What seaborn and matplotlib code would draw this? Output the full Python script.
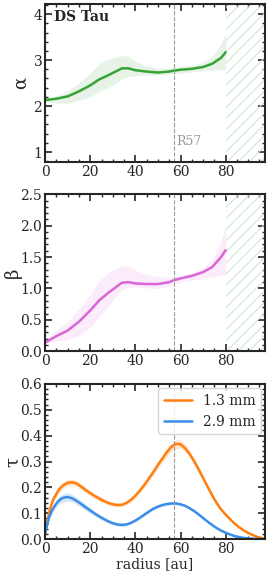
import numpy as np
import pandas as pd
import matplotlib
matplotlib.use('Agg')
import matplotlib.pyplot as plt
import seaborn as sns
from matplotlib.ticker import MultipleLocator

# radius grid for the spectral indices
r_ab = [0, 5, 10, 15, 20, 24, 28, 34, 37, 40, 45, 50, 55, 57, 60, 65, 70, 74, 78, 80]

alpha = [2.13, 2.16, 2.21, 2.32, 2.45, 2.58, 2.67, 2.82, 2.82, 2.78, 2.75, 2.73, 2.75, 2.77, 2.79, 2.81, 2.85, 2.92, 3.05, 3.17]
alpha_lo = [2.10, 2.07, 2.06, 2.13, 2.20, 2.32, 2.40, 2.58, 2.64, 2.66, 2.68, 2.68, 2.69, 2.70, 2.72, 2.74, 2.77, 2.78, 2.79, 2.80]
alpha_hi = [2.16, 2.22, 2.33, 2.50, 2.72, 2.92, 3.02, 3.10, 3.08, 2.97, 2.87, 2.82, 2.83, 2.84, 2.86, 2.89, 2.95, 3.08, 3.35, 3.58]

beta = [0.14, 0.24, 0.33, 0.47, 0.65, 0.81, 0.93, 1.09, 1.10, 1.08, 1.07, 1.07, 1.10, 1.13, 1.16, 1.20, 1.26, 1.34, 1.50, 1.61]
beta_lo = [0.13, 0.16, 0.18, 0.25, 0.38, 0.55, 0.72, 0.98, 1.02, 1.02, 1.01, 1.00, 1.04, 1.07, 1.10, 1.13, 1.16, 1.18, 1.21, 1.22]
beta_hi = [0.20, 0.33, 0.47, 0.67, 0.90, 1.12, 1.25, 1.37, 1.35, 1.29, 1.22, 1.19, 1.18, 1.19, 1.21, 1.25, 1.33, 1.46, 1.75, 2.00]

# optical depth profiles
r_tau = [0, 1, 2, 3, 4, 5, 6, 7, 8, 10, 12, 14, 16, 18, 20, 22, 24, 26, 28, 30, 32, 34, 36, 38,
         40, 42, 44, 46, 48, 50, 52, 54, 56, 58, 60, 62, 64, 66, 68, 70, 72, 74, 76, 78, 80,
         82, 84, 86, 88, 90, 92, 94, 96, 97]
tau_13 = [0.02, 0.07, 0.11, 0.14, 0.16, 0.175, 0.19, 0.20, 0.208, 0.218, 0.22, 0.215, 0.203, 0.19,
          0.178, 0.167, 0.157, 0.148, 0.14, 0.135, 0.132, 0.133, 0.14, 0.152, 0.168, 0.188, 0.21,
          0.235, 0.26, 0.287, 0.312, 0.337, 0.357, 0.368, 0.367, 0.352, 0.33, 0.302, 0.27, 0.237,
          0.203, 0.17, 0.14, 0.115, 0.095, 0.077, 0.06, 0.046, 0.034, 0.024, 0.016, 0.009, 0.004, 0.002]
tau_13_err = [0.004, 0.007, 0.009, 0.011, 0.012, 0.013, 0.013, 0.013, 0.013, 0.013, 0.013, 0.012, 0.012, 0.011,
              0.011, 0.010, 0.010, 0.009, 0.009, 0.008, 0.008, 0.008, 0.008, 0.009, 0.009, 0.010, 0.011,
              0.012, 0.013, 0.014, 0.015, 0.016, 0.017, 0.017, 0.016, 0.015, 0.013, 0.012, 0.010, 0.009,
              0.008, 0.007, 0.006, 0.005, 0.004, 0.003, 0.003, 0.002, 0.002, 0.001, 0.001, 0.001, 0.0, 0.0]
tau_29 = [0.02, 0.06, 0.09, 0.11, 0.125, 0.138, 0.148, 0.155, 0.16, 0.163, 0.158, 0.148, 0.136, 0.123,
          0.111, 0.099, 0.088, 0.078, 0.069, 0.062, 0.057, 0.055, 0.057, 0.063, 0.072, 0.083, 0.095,
          0.107, 0.118, 0.126, 0.132, 0.136, 0.138, 0.138, 0.135, 0.129, 0.12, 0.109, 0.096, 0.082,
          0.068, 0.055, 0.043, 0.033, 0.025, 0.018, 0.012, 0.008, 0.005, 0.003, 0.002, 0.001, 0.0, 0.0]
tau_29_err = [0.004, 0.007, 0.010, 0.012, 0.013, 0.014, 0.015, 0.015, 0.016, 0.016, 0.015, 0.014, 0.013, 0.012,
              0.011, 0.010, 0.009, 0.008, 0.007, 0.007, 0.006, 0.006, 0.006, 0.006, 0.006, 0.006, 0.006,
              0.006, 0.006, 0.006, 0.006, 0.006, 0.006, 0.006, 0.006, 0.005, 0.005, 0.005, 0.004, 0.004,
              0.003, 0.003, 0.002, 0.002, 0.002, 0.001, 0.001, 0.001, 0.0, 0.0, 0.0, 0.0, 0.0, 0.0]

labels = ['1.3 mm', '2.9 mm']
r_ring = 57
r_limit = 80

sns.set_theme(style='ticks')
plt.rcParams['font.family'] = ['DejaVu Serif']
plt.rcParams['axes.linewidth'] = 1.5
plt.rcParams['hatch.linewidth'] = 0.8

green = '#36a336'
pink = '#d966d6'
orange = '#ff7f0e'
blue = '#3a8eea'

fig = plt.figure(figsize=(2.7, 5.73), dpi=100)
ax1 = fig.add_axes([0.167, 0.717, 0.815, 0.276])
ax2 = fig.add_axes([0.167, 0.387, 0.815, 0.274])
ax3 = fig.add_axes([0.167, 0.059, 0.815, 0.271])

df_ab = pd.DataFrame({'r': r_ab, 'alpha': alpha, 'beta': beta})

# alpha panel
ax1.fill_between(r_ab, alpha_lo, alpha_hi, color=green, alpha=0.12, lw=0)
sns.lineplot(data=df_ab, x='r', y='alpha', color=green, lw=1.8, ax=ax1)
ax1.set_ylim(0.78, 4.22)
ax1.yaxis.set_major_locator(MultipleLocator(1))
ax1.yaxis.set_minor_locator(MultipleLocator(0.2))
ax1.set_ylabel('α', fontsize=13)
ax1.text(4, 4.08, 'DS Tau', fontsize=10, fontweight='bold', va='top')
ax1.text(r_ring + 1, 1.15, 'R57', fontsize=9, color='#999999')

# beta panel
ax2.fill_between(r_ab, beta_lo, beta_hi, color=pink, alpha=0.12, lw=0)
sns.lineplot(data=df_ab, x='r', y='beta', color=pink, lw=1.8, ax=ax2)
ax2.set_ylim(0, 2.5)
ax2.yaxis.set_major_locator(MultipleLocator(0.5))
ax2.yaxis.set_minor_locator(MultipleLocator(0.1))
ax2.set_ylabel('β', fontsize=13)

for ax in (ax1, ax2):
    ax.axvspan(r_limit, 100, facecolor='none', edgecolor='#cfe7d4', hatch='///', lw=0)

# tau panel
df_tau = pd.DataFrame({'r': r_tau * 2,
                       'tau': tau_13 + tau_29,
                       'band': [labels[0]] * len(r_tau) + [labels[1]] * len(r_tau)})
t13 = np.array(tau_13)
t29 = np.array(tau_29)
ax3.fill_between(r_tau, t13 - tau_13_err, t13 + tau_13_err, color=orange, alpha=0.2, lw=0)
ax3.fill_between(r_tau, t29 - tau_29_err, t29 + tau_29_err, color=blue, alpha=0.2, lw=0)
sns.lineplot(data=df_tau, x='r', y='tau', hue='band', palette=[orange, blue], lw=1.8, ax=ax3)
ax3.set_ylim(0, 0.6)
ax3.yaxis.set_major_locator(MultipleLocator(0.1))
ax3.yaxis.set_minor_locator(MultipleLocator(0.02))
ax3.set_ylabel('τ', fontsize=13)
ax3.set_xlabel('radius [au]', fontsize=10, labelpad=1)
leg = ax3.legend(loc='upper right', fontsize=10, frameon=True, handlelength=2.0,
                 borderaxespad=0.3, fancybox=True)
leg.get_frame().set_edgecolor('#cccccc')

for ax in (ax1, ax2, ax3):
    ax.axvline(r_ring, color='#999999', ls='--', lw=0.8)
    ax.set_xlim(0, 97.5)
    ax.xaxis.set_major_locator(MultipleLocator(20))
    ax.xaxis.set_minor_locator(MultipleLocator(5))
    ax.tick_params(which='both', direction='in', top=True, right=True, labelsize=10, pad=2)
    ax.tick_params(which='major', length=5, width=1.2)
    ax.tick_params(which='minor', length=2.5, width=1.0)
    if ax is not ax3:
        ax.set_xlabel('')

ax1.yaxis.set_label_coords(-0.07, 0.5)
ax2.yaxis.set_label_coords(-0.105, 0.5)
ax3.yaxis.set_label_coords(-0.105, 0.5)

fig.savefig('out.png', dpi=100)
